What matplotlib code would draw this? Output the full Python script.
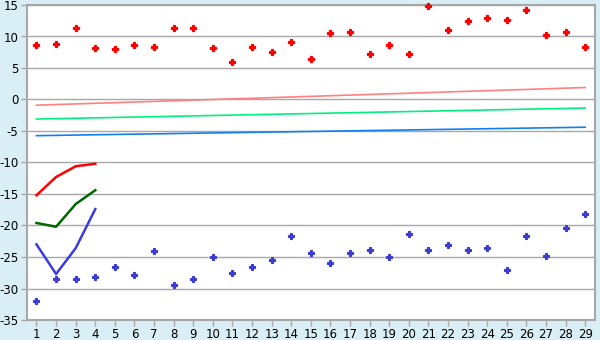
import matplotlib
matplotlib.use("Agg")
import matplotlib.pyplot as plt

plt.rcParams['axes.unicode_minus'] = False
plt.rcParams['font.family'] = ['DejaVu Sans']

categories = list(range(1, 30))
red_points = [8.6, 8.8, 11.3, 8.1, 8.0, 8.6, 8.3, 11.3, 11.3, 8.1,
              5.9, 8.4, 7.5, 9.1, 6.5, 10.5, 10.7, 7.2, 8.6, 7.3,
              14.8, 11.0, 12.4, 12.9, 12.6, 14.2, 10.3, 10.7, 8.4]
blue_points = [-32.0, -28.5, -28.5, -28.1, -26.6, -27.9, -24.1, -29.5, -28.5, -25.0,
               -27.6, -26.6, -25.5, -21.7, -24.3, -26.0, -24.4, -23.9, -25.0, -21.4,
               -23.9, -23.1, -23.9, -23.5, -27.1, -21.6, -24.9, -20.4, -18.1]
line_cats = [1, 2, 3, 4]
red_line = [-15.2, -12.3, -10.6, -10.2]
green_line = [-19.6, -20.2, -16.6, -14.4]
blue_line = [-23.0, -27.7, -23.6, -17.4]
trend_ends = [1, 29]
red_trend = [-0.9, 1.9]
green_trend = [-3.1, -1.35]
blue_trend = [-5.74, -4.4]
yticks = [-35, -30, -25, -20, -15, -10, -5, 0, 5, 10, 15]

bg = '#DAEEF5'
grid = '#A8A8A8'

fig = plt.figure(figsize=(6, 3.4), dpi=100, facecolor=bg)
ax = fig.add_axes([26.7/600, 1-320/340, (595-26.7)/600, (320-5)/340])
ax.set_facecolor('white')

for y in yticks:
    ax.axhline(y, color=grid, lw=1.0, zorder=1)

ax.plot(trend_ends, red_trend, color='#FF8080', lw=1.2, zorder=2)
ax.plot(trend_ends, green_trend, color='#00F080', lw=1.2, zorder=2)
ax.plot(trend_ends, blue_trend, color='#1080F0', lw=1.2, zorder=2)

ax.plot(line_cats, red_line, color='#FF0000', lw=1.8, zorder=3)
ax.plot(line_cats, green_line, color='#006600', lw=1.8, zorder=3)
ax.plot(line_cats, blue_line, color='#3C3CDC', lw=1.8, zorder=3)

ax.plot(categories, red_points, ls='none', marker='P', ms=5, color='#FF0000',
        markeredgewidth=0.9, zorder=4, clip_on=False)
ax.plot(categories, blue_points, ls='none', marker='P', ms=4.5, color='#3C3CD0',
        markeredgewidth=0.8, zorder=4, clip_on=False)

ax.set_xlim(0.5, 29.5)
ax.set_ylim(-35, 15)
ax.set_xticks(categories)
ax.set_xticklabels([str(c) for c in categories])
ax.set_yticks(yticks)
ax.set_yticklabels([str(y) for y in yticks])
ax.tick_params(axis='both', colors=grid, labelcolor='black', labelsize=8.5,
               direction='out', width=1)
ax.tick_params(axis='x', length=4, pad=2)
ax.tick_params(axis='y', length=4, pad=2)
for s in ax.spines.values():
    s.set_color(grid)
    s.set_linewidth(1.5)

fig.savefig('out.png', dpi=100, facecolor=bg)
